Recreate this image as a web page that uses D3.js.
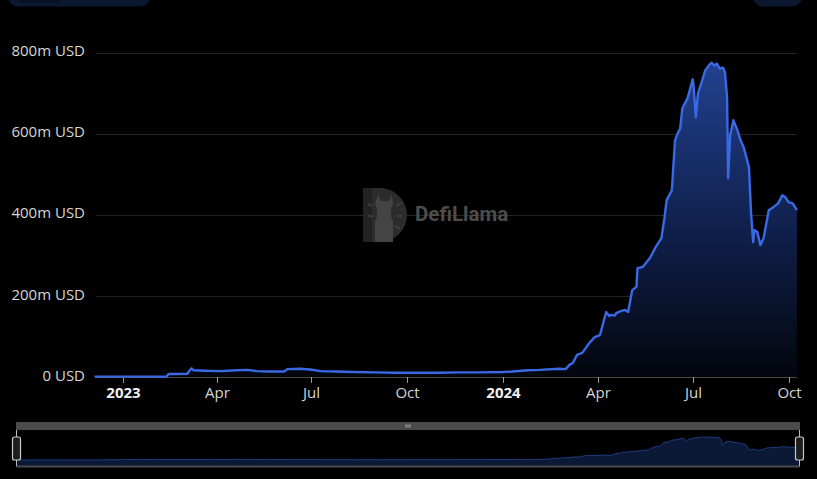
<!DOCTYPE html>
<html>
<head>
<meta charset="utf-8">
<script src="https://cdn.jsdelivr.net/npm/d3@7"></script>
<style>
html,body{margin:0;padding:0;background:#000;}
svg{display:block;}
</style>
</head>
<body>
<svg id="chart" width="817" height="479"></svg>
<script>
// ---- Data (TVL in millions of USD) ----
const dates = [
"2022-12-05","2023-01-15","2023-02-12","2023-02-14","2023-03-04","2023-03-06","2023-03-08","2023-03-10","2023-03-20",
"2023-04-05","2023-04-20","2023-05-01","2023-05-10","2023-05-20","2023-06-05","2023-06-08","2023-06-20","2023-06-30",
"2023-07-10","2023-07-25","2023-08-10","2023-09-01","2023-09-20","2023-10-15","2023-11-01","2023-11-20","2023-12-10",
"2024-01-01","2024-01-10","2024-01-25","2024-02-05","2024-02-24","2024-03-01","2024-03-05","2024-03-08","2024-03-12",
"2024-03-17","2024-03-24","2024-03-29","2024-04-03","2024-04-09","2024-04-12","2024-04-14","2024-04-17","2024-04-19",
"2024-04-23","2024-04-27","2024-04-30","2024-05-04","2024-05-08","2024-05-09","2024-05-14","2024-05-21","2024-05-26",
"2024-06-01","2024-06-04","2024-06-06","2024-06-11","2024-06-14","2024-06-17","2024-06-19","2024-06-21","2024-06-26",
"2024-07-01","2024-07-02","2024-07-04","2024-07-06","2024-07-10","2024-07-13","2024-07-15","2024-07-17","2024-07-19",
"2024-07-22","2024-07-24","2024-07-27","2024-07-30","2024-08-01","2024-08-03","2024-08-04","2024-08-06","2024-08-09",
"2024-08-13","2024-08-16","2024-08-19","2024-08-24","2024-08-26","2024-08-28","2024-08-29","2024-09-01","2024-09-04",
"2024-09-07","2024-09-12","2024-09-16","2024-09-21","2024-09-25","2024-09-28","2024-10-01","2024-10-05","2024-10-09"
];
const tvl = [
0.5,0.5,0.8,7,7.5,15,21,16,15,
14,16,17,14,13,13,19,20,18,
14,13,12,11,10,10,10,11,11,
12,13,16,17,20,19,30,34,54,
59,84,98,103,160,150,153,151,158,
162,165,160,214,222,268,271,293,318,
342,394,436,460,583,603,613,662,687,
734,714,640,699,731,756,763,770,775,
768,773,761,763,751,689,490,596,633,
608,583,566,517,404,332,362,357,325,
342,411,418,428,448,443,431,428,411
];
const yTicks = [0,200,400,600,800];
const yTickLabels = ["0 USD","200m USD","400m USD","600m USD","800m USD"];
const xTickDates = ["2023-01-01","2023-04-01","2023-07-01","2023-10-01","2024-01-01","2024-04-01","2024-07-01","2024-10-01"];
const xTickLabels = ["2023","Apr","Jul","Oct","2024","Apr","Jul","Oct"];

const parse = d3.timeParse("%Y-%m-%d");
const data = dates.map((d,i)=>({date:parse(d), v:tvl[i]}));

const svg = d3.select("#chart");
const font = "'Segoe UI', 'Open Sans', 'Noto Sans', sans-serif";

// top buttons (partially visible)
svg.append("rect").attr("x",8).attr("y",-20).attr("width",142).attr("height",26.5).attr("rx",10).attr("fill","#0c1730");
svg.append("rect").attr("x",17).attr("y",-20).attr("width",46).attr("height",23).attr("rx",6).attr("fill","#0a1226");
svg.append("rect").attr("x",753).attr("y",-20).attr("width",49).attr("height",26.5).attr("rx",10).attr("fill","#0c1730");

const x = d3.scaleTime().domain([parse("2022-12-05"), parse("2024-10-09")]).range([94.6, 796.9]);
const y = d3.scaleLinear().domain([0,800]).range([376.8, 52.6]);

// gridlines
svg.append("g").selectAll("line").data(yTicks.filter(t=>t>0)).join("line")
  .attr("x1",96).attr("x2",797)
  .attr("y1",d=>Math.round(y(d))+0.5).attr("y2",d=>Math.round(y(d))+0.5)
  .attr("stroke","#242424").attr("stroke-width",1);

// y labels
svg.append("g").selectAll("text").data(yTicks).join("text")
  .attr("x",85).attr("y",d=>y(d)-1.5).attr("dy","0.35em")
  .attr("text-anchor","end").attr("fill","#d6d6d6")
  .style("font-family",font).style("font-size","15px")
  .text((d,i)=>yTickLabels[i]);

// watermark
const wm = svg.append("g");
wm.append("path").attr("d","M363,188 h17 a27,27 0 0 1 0,54 h-17 z").attr("fill","#2c2c2c");
wm.append("rect").attr("x",363).attr("y",188).attr("width",9).attr("height",54).attr("fill","#232323");
wm.append("path").attr("d","M378,195 l3,6 h8 l3,-6 l1,9 l-2,5 v8 l2,4 v21 h-18 v-21 l2,-4 v-8 l-2,-5 z").attr("fill","#444");
[[372,206,368,204],[373,216,368,216],[396,206,401,203],[397,216,402,216],[395,226,400,229]].forEach(l=>{
  wm.append("line").attr("x1",l[0]).attr("y1",l[1]).attr("x2",l[2]).attr("y2",l[3]).attr("stroke","#444").attr("stroke-width",1.5);
});
wm.append("text").attr("x",415).attr("y",221).attr("fill","#4d4d4d")
  .style("font-family","Roboto, 'Open Sans', sans-serif").style("font-weight","bold").style("font-size","20.5px")
  .text("DefiLlama");

// gradient
const defs = svg.append("defs");
const grad = defs.append("linearGradient").attr("id","areaGrad").attr("gradientUnits","userSpaceOnUse")
  .attr("x1",0).attr("x2",0).attr("y1",y(780)).attr("y2",y(0));
grad.append("stop").attr("offset",0).attr("stop-color","#22418f");
grad.append("stop").attr("offset",0.55).attr("stop-color","#0f1f4a");
grad.append("stop").attr("offset",1).attr("stop-color","#03060d");

const area = d3.area().x(d=>x(d.date)).y0(y(0)).y1(d=>y(d.v)).curve(d3.curveLinear);
const line = d3.line().x(d=>x(d.date)).y(d=>y(d.v)).curve(d3.curveLinear);

svg.append("path").datum(data).attr("d",area).attr("fill","url(#areaGrad)");

// x axis
svg.append("line").attr("x1",96).attr("x2",797).attr("y1",377.5).attr("y2",377.5).attr("stroke","#4a4a4a").attr("stroke-width",1);
const xg = svg.append("g");
xTickDates.forEach((d,i)=>{
  const px = Math.round(x(parse(d)))+0.5;
  xg.append("line").attr("x1",px).attr("x2",px).attr("y1",377).attr("y2",383).attr("stroke","#9a9a9a");
  xg.append("text").attr("x",px).attr("y",393).attr("dy","0.35em").attr("text-anchor","middle")
    .attr("fill",i%4===0?"#f0f0f0":"#d6d6d6")
    .style("font-family",font).style("font-size","15px").style("font-weight",i%4===0?"bold":"normal")
    .text(xTickLabels[i]);
});

svg.append("path").datum(data).attr("d",line).attr("fill","none").attr("stroke","#3a69e4").attr("stroke-width",2.4).attr("stroke-linejoin","round");

// navigator
const nx = d3.scaleTime().domain(x.domain()).range([17, 799]);
const ny = d3.scaleLinear().domain([0,775]).range([460, 437]);
svg.append("rect").attr("x",16).attr("y",422).attr("width",784).attr("height",8).attr("fill","#4b4b4b");
[-2,0,2].forEach(o=>svg.append("line").attr("x1",408+o).attr("x2",408+o).attr("y1",424.5).attr("y2",427.5).attr("stroke","#cfcfcf").attr("stroke-width",0.8));
const narea = d3.area().x(d=>nx(d.date)).y0(466).y1(d=>ny(d.v));
const nline = d3.line().x(d=>nx(d.date)).y(d=>ny(d.v));
svg.append("path").datum(data).attr("d",narea).attr("fill","#0b1937");
svg.append("path").datum(data).attr("d",nline).attr("fill","none").attr("stroke","#1d3b7e").attr("stroke-width",1);
svg.append("line").attr("x1",16).attr("x2",800).attr("y1",466.5).attr("y2",466.5).attr("stroke","#4b4b4b").attr("stroke-width",2);
[16.5, 799.5].forEach(hx=>{
  svg.append("line").attr("x1",hx).attr("x2",hx).attr("y1",430).attr("y2",466).attr("stroke","#bdbdbd").attr("stroke-width",1);
  svg.append("rect").attr("x",hx-4).attr("y",437).attr("width",8).attr("height",23).attr("rx",2)
    .attr("fill","#1e1e1e").attr("stroke","#c8c8c8").attr("stroke-width",1.2);
});
</script>
</body>
</html>
